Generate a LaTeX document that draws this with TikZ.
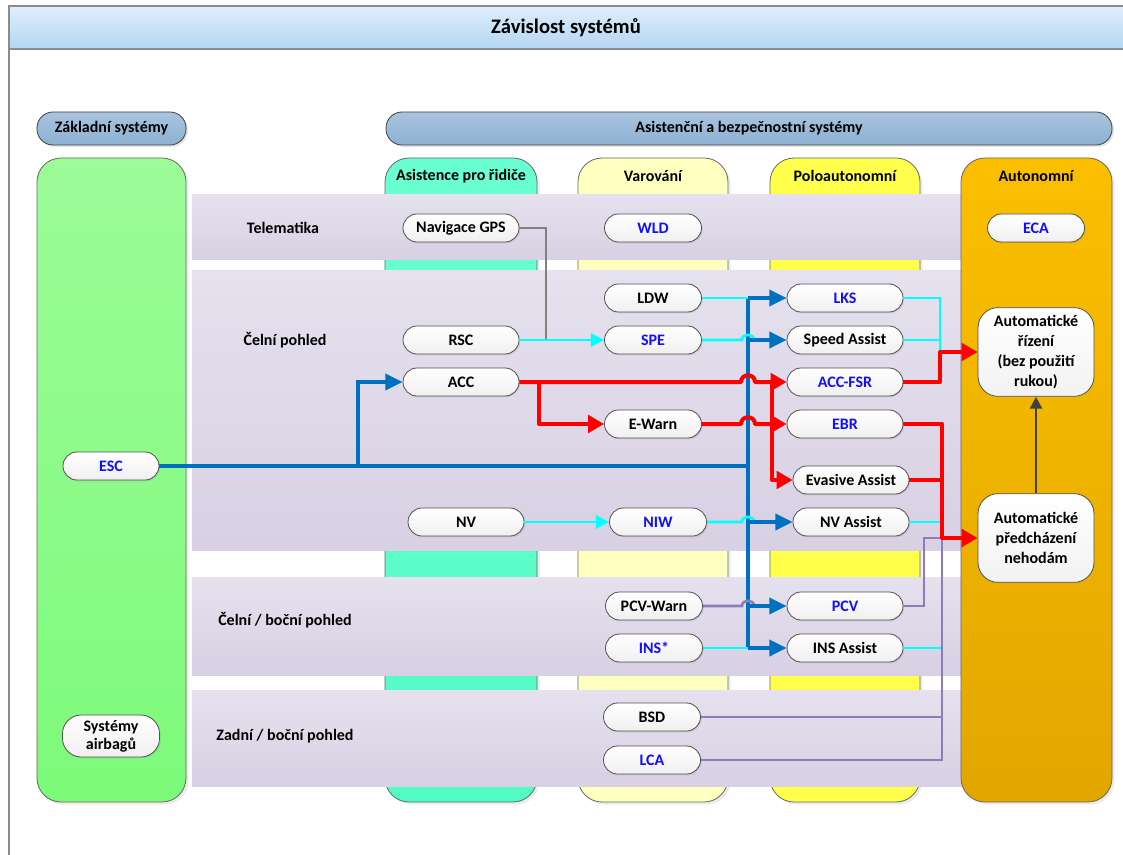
\documentclass[tikz,border=0pt]{standalone}
\usepackage{fontspec}
\setmainfont{Carlito}
\usetikzlibrary{arrows.meta,shadows}

\definecolor{frameGray}{HTML}{8C8C8C}
\definecolor{titleTop}{HTML}{DFEEFC}
\definecolor{titleBot}{HTML}{B4D6F4}
\definecolor{hdrTop}{HTML}{A9C4DE}
\definecolor{hdrBot}{HTML}{8DB0D2}
\definecolor{greenTop}{HTML}{9CFC98}
\definecolor{greenBot}{HTML}{7DFA7A}
\definecolor{aquaTop}{HTML}{6AFFD0}
\definecolor{aquaBot}{HTML}{52FBC4}
\definecolor{lightYellow}{HTML}{FFFFC0}
\definecolor{brightYellow}{HTML}{FFFF4C}
\definecolor{orangeTop}{HTML}{FBBF00}
\definecolor{orangeBot}{HTML}{E1A700}
\definecolor{bandTop}{HTML}{E5E1EE}
\definecolor{bandBot}{HTML}{D8D0E3}
\definecolor{pillEdge}{HTML}{505050}
\definecolor{sysBlue}{HTML}{1010FF}
\definecolor{lineBlue}{HTML}{0070C0}
\definecolor{lineRed}{HTML}{FF0000}
\definecolor{lineCyan}{HTML}{00FFFF}
\definecolor{linePurple}{HTML}{8E7CB8}
\definecolor{lineGray}{HTML}{808080}
\definecolor{lineDark}{HTML}{404040}

\tikzset{
  txt/.style={font=\fontsize{12}{14}\selectfont\bfseries},
  pill/.style={draw=pillEdge, line width=0.6pt, rounded corners=10.5pt,
    top color=white, bottom color=black!6, minimum height=21pt,
    inner sep=0pt, txt, drop shadow={opacity=0.18, shadow xshift=1pt, shadow yshift=-1pt}},
  pillwide/.style={pill, minimum width=87pt},
  pillnarrow/.style={pill, minimum width=72.75pt},
  bluetxt/.style={text=sysBlue},
  autobox/.style={draw=pillEdge, line width=0.6pt, rounded corners=15pt,
    top color=white, bottom color=black!5, minimum width=87pt, minimum height=66.5pt,
    inner sep=0pt, align=center, font=\fontsize{12}{15}\selectfont\bfseries},
  hdrpill/.style={draw=black!75, line width=0.6pt, rounded corners=12pt,
    top color=hdrTop, bottom color=hdrBot, minimum height=24.75pt, inner sep=0pt,
    font=\fontsize{12}{14}\selectfont\bfseries,
    drop shadow={opacity=0.2, shadow xshift=1.5pt, shadow yshift=-1.5pt}},
  column/.style={draw=black!60, line width=0.6pt, rounded corners=18pt,
    drop shadow={opacity=0.15, shadow xshift=2pt, shadow yshift=-2pt}},
  band/.style={top color=bandTop, bottom color=bandBot, draw=none},
  blueline/.style={draw=lineBlue, line width=3pt},
  bluearrow/.style={blueline, -{Triangle[length=13pt,width=12pt]}},
  redline/.style={draw=lineRed, line width=3pt, line join=round},
  redarrow/.style={redline, -{Triangle[length=12pt,width=13pt]}},
  cyanline/.style={draw=lineCyan, line width=2pt},
  cyanarrow/.style={cyanline, -{Triangle[length=10pt,width=10pt]}},
  purpleline/.style={draw=linePurple, line width=2pt},
  grayline/.style={draw=lineGray, line width=2pt},
  darkarrow/.style={draw=lineDark, line width=2pt, -{Triangle[length=9pt,width=9pt]}},
}

\begin{document}
\begin{tikzpicture}[x=0.75pt,y=-0.75pt]
\useasboundingbox (0,0) rectangle (1123,855);
\clip (0,0) rectangle (1123,855);

% frame and title bar
\fill[white] (0,0) rectangle (1123,855);
\shade[top color=titleTop, bottom color=titleBot] (9,6) rectangle (1130,49);
\draw[frameGray, line width=0.8pt] (9,855) -- (9,6) -- (1130,6);
\draw[frameGray, line width=0.8pt] (9,49) -- (1130,49);
\node[font=\fontsize{15.5}{17}\selectfont\bfseries] (title) at (566,27.5) {Závislost systémů};

% group headers
\node[hdrpill, minimum width=111.75pt] (basehdr) at (111.5,128.5) {Základní systémy};
\node[hdrpill, minimum width=544.5pt] (asshdr) at (749,128.5) {Asistenční a bezpečnostní systémy};

% columns
\path[column, top color=greenTop, bottom color=greenBot] (37,158) rectangle (186,802);
\path[column, top color=aquaTop, bottom color=aquaBot] (385,158) rectangle (537,802);
\path[column, fill=lightYellow] (578,158) rectangle (728,802);
\path[column, fill=brightYellow] (770,158) rectangle (920,802);

% horizontal bands
\path[band] (192,195) rectangle (962,260);
\path[band] (192,271) rectangle (962,550);
\path[band] (192,577) rectangle (962,675);
\path[band] (192,690) rectangle (962,786);

% autonomous column on top of the bands
\path[column, top color=orangeTop, bottom color=orangeBot] (961,158) rectangle (1112,802);

% column titles
\node[txt] (colA) at (461,176) {Asistence pro řidiče};
\node[txt] (colW) at (653,176) {Varování};
\node[txt] (colS) at (845,176) {Poloautonomní};
\node[txt] (colX) at (1036,176) {Autonomní};

% band titles
\node[txt] (bTel) at (283,228) {Telematika};
\node[txt] (bFront) at (285,340) {Čelní pohled};
\node[txt] (bSide) at (285,620) {Čelní / boční pohled};
\node[txt] (bRear) at (285,736) {Zadní / boční pohled};

% base systems
\node[pill, minimum width=72pt, bluetxt] (esc) at (111,466) {ESC};
\node[pill, minimum width=72.75pt, minimum height=31.5pt, rounded corners=14pt,
      align=center, font=\fontsize{12}{13.5}\selectfont\bfseries] (airbag) at (111,736) {Systémy\\airbagů};

% driver assistance
\node[pillwide] (gps) at (461,228) {Navigace GPS};
\node[pillwide] (rsc) at (461,340) {RSC};
\node[pillwide] (acc) at (461,382) {ACC};
\node[pillwide] (nv) at (466,522) {NV};

% warning
\node[pillnarrow, bluetxt] (wld) at (653,228) {WLD};
\node[pillnarrow] (ldw) at (653,298) {LDW};
\node[pillnarrow, bluetxt] (spe) at (653,340) {SPE};
\node[pillnarrow] (ewarn) at (653,424) {E-Warn};
\node[pillnarrow, bluetxt] (niw) at (658,522) {NIW};
\node[pillnarrow] (pcvw) at (654,606) {PCV-Warn};
\node[pillnarrow, bluetxt] (ins) at (654,648) {INS*};
\node[pillnarrow] (bsd) at (652,717) {BSD};
\node[pillnarrow, bluetxt] (lca) at (652,760) {LCA};

% semi-autonomous
\node[pillwide, bluetxt] (lks) at (845,298) {LKS};
\node[pillwide] (speed) at (845,340) {Speed Assist};
\node[pillwide, bluetxt] (accfsr) at (845,382) {ACC-FSR};
\node[pillwide, bluetxt] (ebr) at (845,424) {EBR};
\node[pillwide] (evasive) at (851,480) {Evasive Assist};
\node[pillwide] (nva) at (851,522) {NV Assist};
\node[pillwide, bluetxt] (pcv) at (845,606) {PCV};
\node[pillwide] (insa) at (845,648) {INS Assist};

% autonomous
\node[pillnarrow, bluetxt] (eca) at (1036,228) {ECA};
\node[autobox] (rizeni) at (1036,352) {Automatické\\řízení\\(bez použití\\rukou)};
\node[autobox] (predch) at (1036,538) {Automatické\\předcházení\\nehodám};

% junction points
\coordinate (busTop) at (748,298);
\coordinate (busBot) at (748,648);
\coordinate (escJ) at (748,466);
\coordinate (accJ) at (358,466);
\coordinate (gpsJ) at (546,340);
\coordinate (accSplit) at (539,382);
\coordinate (evaSplit) at (772,382);
\coordinate (jR) at (940,352);
\coordinate (jP) at (942,538);
\coordinate (pcvBend) at (924,538);

% ESC distribution bus
\draw[blueline] (esc.east) -- (escJ);
\draw[blueline] (busTop) -- (busBot);
\draw[bluearrow] (accJ) |- (acc.west);

% telematics and warning feeds
\draw[grayline] (gps.east) -| (gpsJ);
\draw[cyanarrow] (rsc.east) -- (spe.west);
\draw[cyanline] (ldw.east) -- (busTop);
\draw[cyanline] (spe.east) -- (742,340) .. controls (742,333) and (754,333) .. (754,340);
\draw[cyanarrow] (nv.east) -- (niw.west);
\draw[cyanline] (niw.east) -- (742,522) .. controls (742,515) and (754,515) .. (754,522);
\draw[purpleline] (pcvw.east) -- (742,606) .. controls (742,599) and (754,599) .. (754,606);
\draw[cyanline] (ins.east) -- (busBot);

% bus branches to the semi-autonomous systems
\draw[bluearrow] (busTop) -- (lks.west);
\draw[bluearrow] (busTop |- speed.west) -- (speed.west);
\draw[bluearrow] (busTop |- nva.west) -- (nva.west);
\draw[bluearrow] (busTop |- pcv.west) -- (pcv.west);
\draw[bluearrow] (busBot) -- (insa.west);

% adaptive cruise and emergency braking chain
\draw[redarrow] (acc.east) -- (741,382) .. controls (741,373) and (755,373) .. (755,382) -- (accfsr.west);
\draw[redarrow] (accSplit) |- (ewarn.west);
\draw[redarrow] (ewarn.east) -- (741,424) .. controls (741,415) and (755,415) .. (755,424) -- (ebr.west);
\draw[redarrow] (evaSplit) |- (evasive.west);

% feeds into automatic steering
\draw[cyanline] (lks.east) -| (jR);
\draw[cyanline] (speed.east) -| (jR);
\draw[redarrow] (accfsr.east) -| (jR) -- (rizeni.west);

% feeds into automatic accident prevention
\draw[cyanline] (nva.east) -- (nva.east -| jP);
\draw[cyanline] (insa.east) -- (insa.east -| jP);
\draw[purpleline] (pcv.east) -| (pcvBend) -- (jP);
\draw[purpleline] (bsd.east) -| (jP);
\draw[purpleline] (lca.east) -| (jP);
\draw[redline] (evasive.east) -- (evasive.east -| jP);
\draw[redarrow] (ebr.east) -| (jP) -- (predch.west);

% prevention enables steering
\draw[darkarrow] (predch.north) -- (rizeni.south);
\end{tikzpicture}
\end{document}
